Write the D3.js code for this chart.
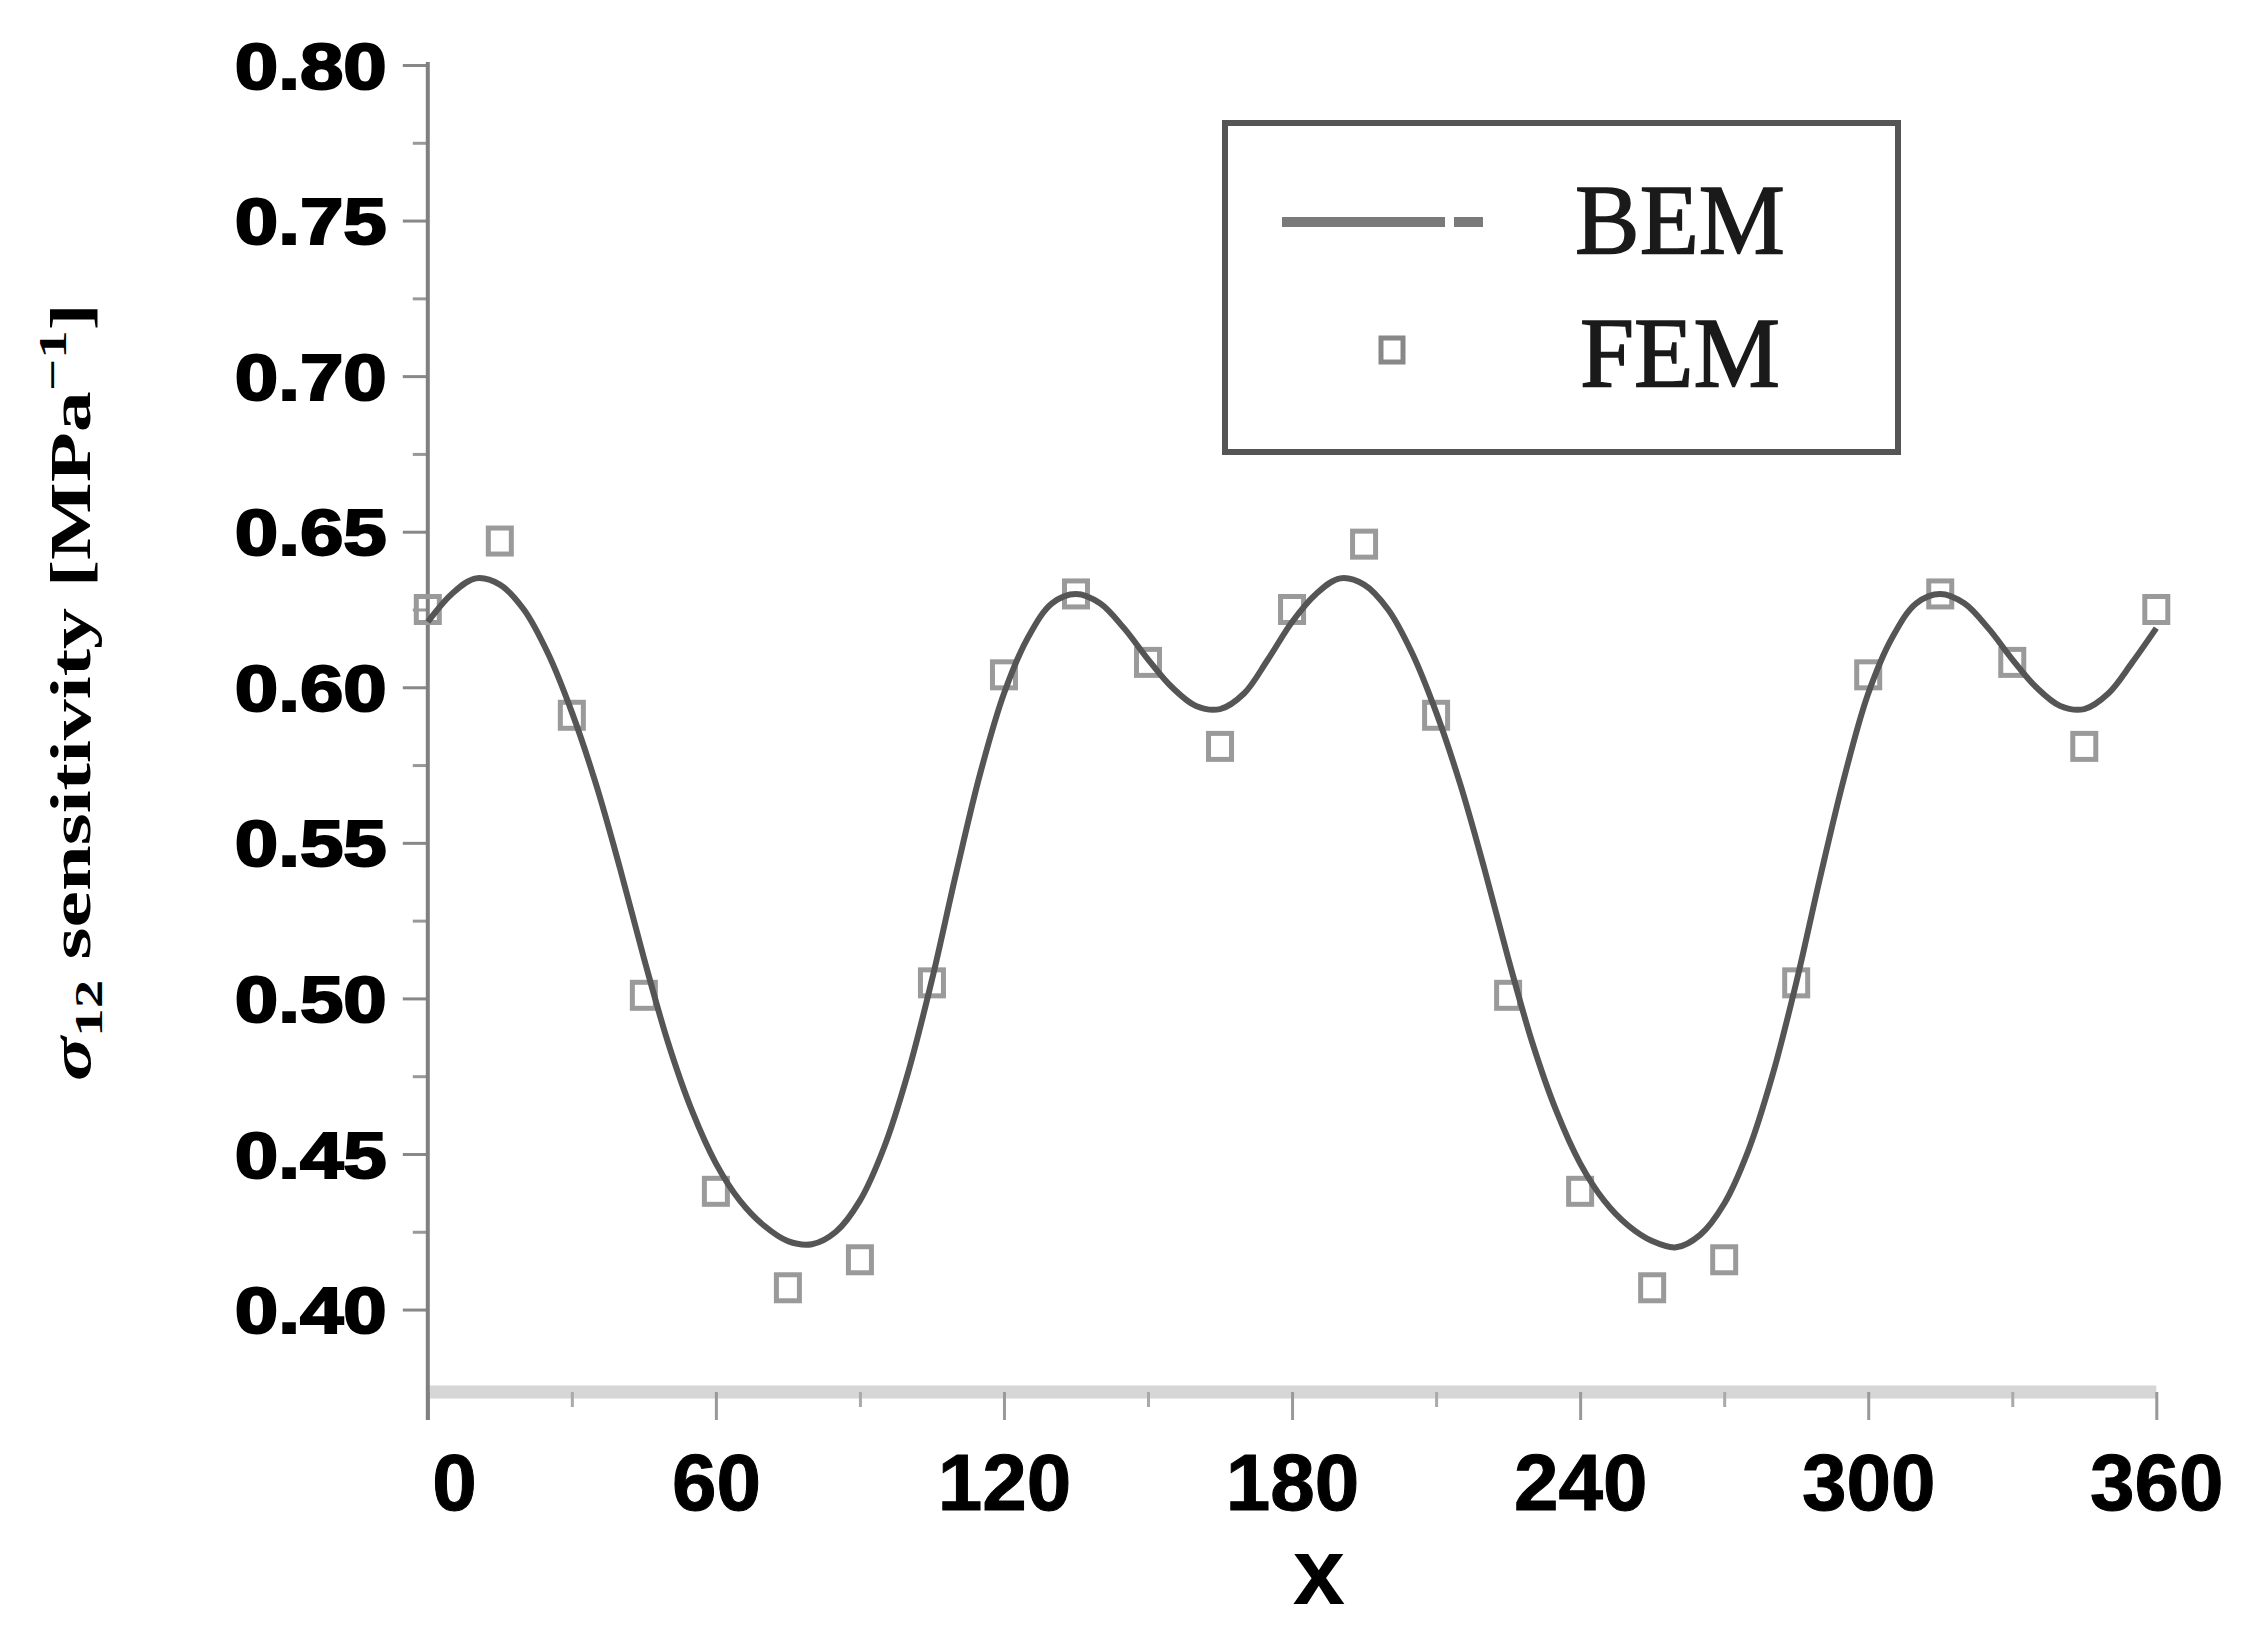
<!DOCTYPE html>
<html>
<head>
<meta charset="utf-8">
<script src="https://cdn.jsdelivr.net/npm/d3@7"></script>
<style>
  html, body { margin: 0; padding: 0; background: #fff; }
  svg { display: block; }
</style>
</head>
<body>
<svg id="chart" width="2266" height="1644"></svg>
<script>
// ---- data ----
const xTicks = [0, 60, 120, 180, 240, 300, 360];
const xMinorTicks = [30, 90, 150, 210, 270, 330];
const yTicks = [0.40, 0.45, 0.50, 0.55, 0.60, 0.65, 0.70, 0.75, 0.80];
const yMinorTicks = [0.425, 0.475, 0.525, 0.575, 0.625, 0.675, 0.725, 0.775];

const bemX = [0,5,10,15,20,25,30,35,40,45,50,55,60,65,70,75,80,85,90,95,100,105,110,115,120,125,130,135,140,145,150,155,160,165,170,175,
              180,185,190,195,200,205,210,215,220,225,230,235,240,245,250,255,260,265,270,275,280,285,290,295,300,305,310,315,320,325,330,335,340,345,350,355,360];
const bemY = [0.621,0.630,0.635,0.633,0.625,0.611,0.592,0.569,0.542,0.513,0.486,0.464,0.447,0.435,0.427,0.422,0.421,0.425,0.435,0.452,0.476,0.506,0.540,0.572,0.598,0.616,0.627,0.630,0.627,0.619,0.609,0.600,0.594,0.593,0.598,0.609,
              0.621,0.630,0.635,0.633,0.625,0.611,0.592,0.569,0.542,0.513,0.486,0.464,0.447,0.435,0.427,0.422,0.420,0.424,0.434,0.451,0.475,0.505,0.539,0.571,0.598,0.616,0.627,0.630,0.627,0.619,0.609,0.600,0.594,0.593,0.598,0.608,0.619];

const femX = [0,15,30,45,60,75,90,105,120,135,150,165,180,195,210,225,240,255,270,285,300,315,330,345,360];
const femY = [0.625,0.647,0.591,0.501,0.438,0.407,0.416,0.505,0.604,0.630,0.608,0.581,0.625,0.646,0.591,0.501,0.438,0.407,0.416,0.505,0.604,0.630,0.608,0.581,0.625];

const legendLabels = ["BEM", "FEM"];
const xTitle = "x";

// ---- layout ----
const svg = d3.select("#chart");
svg.append("rect").attr("width", 2266).attr("height", 1644).attr("fill", "#fff");

const x = d3.scaleLinear().domain([0, 360]).range([427.8, 2156.3]);
const y = d3.scaleLinear().domain([0.3735, 0.80]).range([1392, 65]);
const axisY = 1392;

// x axis band line
svg.append("line")
  .attr("x1", x(0)).attr("x2", x(360))
  .attr("y1", axisY).attr("y2", axisY)
  .attr("stroke", "#d6d6d6").attr("stroke-width", 13);

// x major ticks
const gx = svg.append("g").attr("transform", `translate(0,${axisY})`)
  .call(d3.axisBottom(x).tickValues(xTicks).tickSize(28).tickFormat(d3.format("d")));
gx.select(".domain").remove();
gx.selectAll(".tick line").attr("stroke", "#999").attr("stroke-width", 3);
gx.selectAll(".tick text")
  .attr("y", 118).attr("dy", 0)
  .attr("font-family", "'Liberation Sans', Arial, sans-serif")
  .attr("font-weight", "bold").attr("font-size", 80).attr("fill", "#000")
  .attr("stroke", "#000").attr("stroke-width", 1)
  .attr("text-anchor", (d) => d === 0 ? "start" : "middle")
  .attr("x", (d) => d === 0 ? 4 : 0);

// x minor ticks
const gxm = svg.append("g").attr("transform", `translate(0,${axisY})`)
  .call(d3.axisBottom(x).tickValues(xMinorTicks).tickSize(15).tickFormat(""));
gxm.select(".domain").remove();
gxm.selectAll(".tick line").attr("stroke", "#aaa").attr("stroke-width", 3);

// y axis
const gy = svg.append("g").attr("transform", `translate(${x(0)},0)`)
  .call(d3.axisLeft(y).tickValues(yTicks).tickSize(25).tickFormat(d3.format(".2f")));
gy.select(".domain").remove();
gy.selectAll(".tick line").attr("stroke", "#888").attr("stroke-width", 3);
gy.selectAll(".tick text")
  .attr("x", -41).attr("dy", "0.36em")
  .attr("font-family", "'Liberation Sans', Arial, sans-serif")
  .attr("font-weight", "bold").attr("font-size", 64).attr("fill", "#000")
  .attr("stroke", "#000").attr("stroke-width", 2)
  .attr("textLength", 152).attr("lengthAdjust", "spacingAndGlyphs");

const gym = svg.append("g").attr("transform", `translate(${x(0)},0)`)
  .call(d3.axisLeft(y).tickValues(yMinorTicks).tickSize(15).tickFormat(""));
gym.select(".domain").remove();
gym.selectAll(".tick line").attr("stroke", "#999").attr("stroke-width", 3);

// y axis line
svg.append("line")
  .attr("x1", x(0)).attr("x2", x(0))
  .attr("y1", y(0.80) - 3).attr("y2", axisY + 28)
  .attr("stroke", "#808080").attr("stroke-width", 4);

// FEM markers
const femData = femX.map((d, i) => ({ x: d, y: femY[i] }));
svg.append("g").selectAll("rect").data(femData).join("rect")
  .attr("x", (d) => x(d.x) - 11.5).attr("y", (d) => y(d.y) - 13)
  .attr("width", 23).attr("height", 26)
  .attr("fill", "none").attr("stroke", "#9a9a9a").attr("stroke-width", 5);

// BEM curve
const bemData = bemX.map((d, i) => ({ x: d, y: bemY[i] }));
svg.append("path").datum(bemData)
  .attr("d", d3.line().x((d) => x(d.x)).y((d) => y(d.y)).curve(d3.curveCatmullRom))
  .attr("fill", "none").attr("stroke", "#555").attr("stroke-width", 6)
  .attr("stroke-linejoin", "round");

// Legend
const lg = svg.append("g");
lg.append("rect").attr("x", 1225).attr("y", 123).attr("width", 673).attr("height", 329)
  .attr("fill", "#fff").attr("stroke", "#555").attr("stroke-width", 6);
lg.append("line").attr("x1", 1282).attr("x2", 1483).attr("y1", 222).attr("y2", 222)
  .attr("stroke", "#7a7a7a").attr("stroke-width", 10)
  .attr("stroke-dasharray", "163,9,29,1000");
lg.append("rect").attr("x", 1392 - 11).attr("y", 350 - 12).attr("width", 22).attr("height", 24)
  .attr("fill", "none").attr("stroke", "#888").attr("stroke-width", 5);
lg.selectAll("text.leg").data(legendLabels).join("text")
  .attr("class", "leg")
  .attr("x", (d, i) => i === 0 ? 1575 : 1580)
  .attr("y", (d, i) => i === 0 ? 253 : 386)
  .attr("font-family", "'Liberation Serif', 'Times New Roman', serif")
  .attr("font-size", 100).attr("fill", "#1a1a1a")
  .attr("stroke", "#1a1a1a").attr("stroke-width", 1.5)
  .attr("textLength", (d, i) => i === 0 ? 210 : 200).attr("lengthAdjust", "spacingAndGlyphs")
  .text((d) => d);

// Axis titles
svg.append("text")
  .attr("x", 1319).attr("y", 1604).attr("text-anchor", "middle")
  .attr("font-family", "'Liberation Sans', Arial, sans-serif")
  .attr("font-weight", "bold").attr("font-size", 94).attr("fill", "#000")
  .text(xTitle);

const yt = svg.append("text")
  .attr("transform", "translate(90,692) rotate(-90)")
  .attr("text-anchor", "middle")
  .attr("font-family", "'Liberation Serif', 'Times New Roman', serif")
  .attr("font-weight", "bold").attr("font-size", 58).attr("fill", "#000")
  .attr("textLength", 778).attr("lengthAdjust", "spacingAndGlyphs");
yt.append("tspan").attr("font-style", "italic").text("σ");
yt.append("tspan").attr("font-size", 40).attr("dy", 12).text("12");
yt.append("tspan").attr("dy", -12).text(" sensitivity [MPa");
yt.append("tspan").attr("font-size", 40).attr("dy", -24).text("−1");
yt.append("tspan").attr("dy", 24).text("]");
</script>
</body>
</html>
